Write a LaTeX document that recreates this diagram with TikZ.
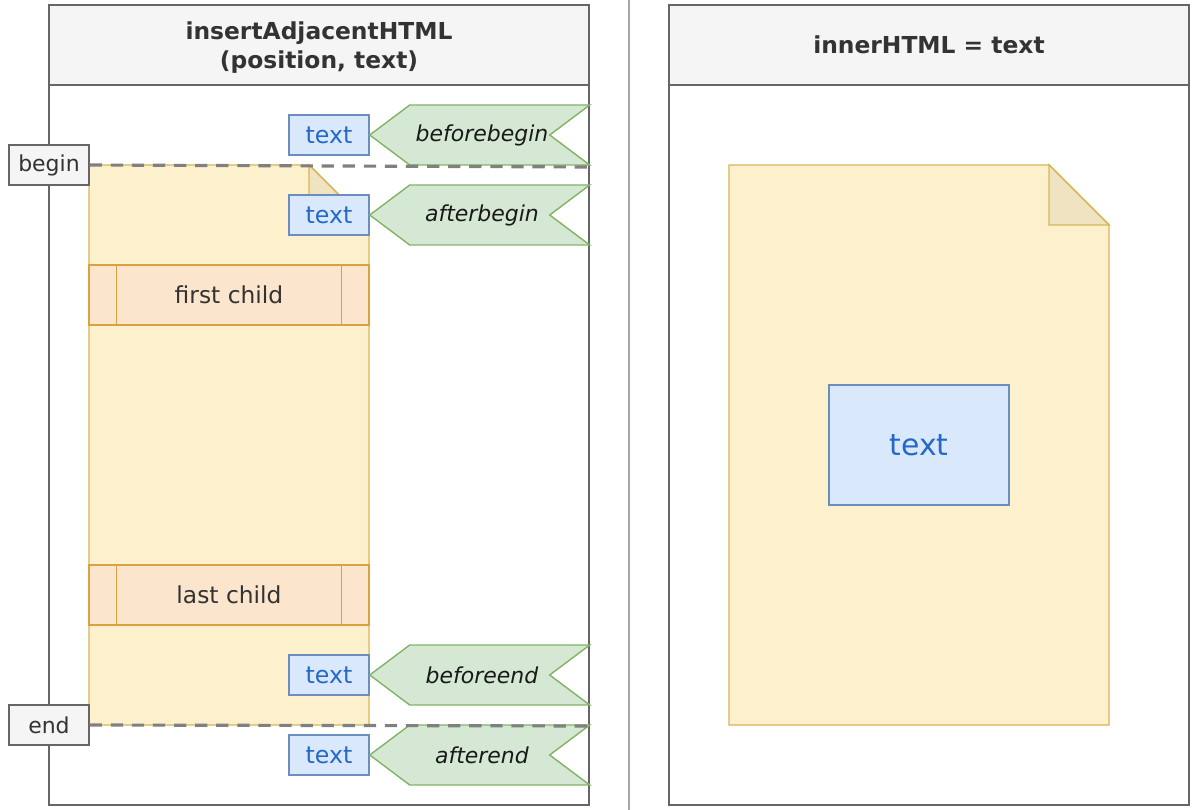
\documentclass[tikz,border=0pt]{standalone}
\usepackage{fontspec}
\setmainfont{DejaVu Sans}
\usepackage{xcolor}
\usetikzlibrary{positioning}

\definecolor{panelline}{HTML}{666666}
\definecolor{headfill}{HTML}{F5F5F5}
\definecolor{darktext}{HTML}{333333}
\definecolor{docfill}{HTML}{FDF1CD}
\definecolor{docline}{HTML}{D6B656}
\definecolor{foldfill}{HTML}{EFE3C2}
\definecolor{childfill}{HTML}{FBE5CD}
\definecolor{childline}{HTML}{D9A13F}
\definecolor{txtfill}{HTML}{DAE8FC}
\definecolor{txtline}{HTML}{6C8EBF}
\definecolor{txtblue}{HTML}{2468C8}
\definecolor{flagfill}{HTML}{D5E8D4}
\definecolor{flagline}{HTML}{82B366}
\definecolor{cutline}{HTML}{808080}

\newcommand\figfont{\fontsize{12.5}{16}\selectfont}

\tikzset{
panel/.style={draw=panelline,line width=1pt},
head/.style={draw=panelline,fill=headfill,line width=1pt},
title/.style={font=\fontsize{13.3}{16.5}\selectfont\bfseries,text=darktext,align=center},
doc/.style={draw=docline,fill=docfill,line width=0.8pt},
child/.style={draw=childline,fill=childfill,line width=0.8pt,minimum width=5.6cm,minimum height=1.2cm,text=darktext,font=\fontsize{13.3}{16}\selectfont},
txt/.style={draw=txtline,fill=txtfill,text=txtblue,line width=0.8pt,inner sep=0pt,minimum width=1.6cm,minimum height=0.8cm,font=\fontsize{13.5}{16}\selectfont},
flag/.style={draw=flagline,fill=flagfill,line width=0.8pt},
flaglabel/.style={font=\figfont\itshape,text=black!90},
bound/.style={draw=panelline,fill=headfill,text=darktext,line width=0.8pt,inner sep=0pt,minimum width=1.6cm,minimum height=0.8cm},
cut/.style={draw=cutline,line width=1.8pt,dash pattern=on 7pt off 5pt}
}

\begin{document}
\begin{tikzpicture}[x=0.02cm,y=-0.02cm,font=\figfont]
\useasboundingbox (0,0) rectangle (1192,810);
\draw[draw=cutline!70,line width=1pt](629,0)--(629,810);
% left panel
\draw[panel](49,5)rectangle(589,805);
\draw[head](49,5)rectangle(589,85);
\node[title](ttl1) at (319,48){insertAdjacentHTML\\(position, text)};
\draw[doc](89,165)--(309,165)--(369,225)--(369,725)--(89,725)--cycle;
\draw[doc,fill=foldfill](309,165)--(309,225)--(369,225)--cycle;
\node[child](first) at (229,295){first child};
\node[child](last) at (229,595){last child};
\foreach \c in {first,last}{
\draw[draw=childline,line width=0.8pt]([xshift=0.56cm]\c.north west)--([xshift=0.56cm]\c.south west)
([xshift=-0.56cm]\c.north east)--([xshift=-0.56cm]\c.south east);
}
\foreach \y/\lab in {135/beforebegin,215/afterbegin,675/beforeend,755/afterend}{
\node[txt](t-\lab) at (329,\y){text};
\draw[flag](t-\lab.east)--++(40,-30)--++(180,0)--++(-40,30)--++(40,30)--++(-180,0)--cycle;
\node[flaglabel](\lab) at (482,\y){\lab};
}
\node[bound](begin) at (49,165){begin};
\node[bound](end) at (49,725){end};
\coordinate(beginedge) at (589,167);
\coordinate(endedge) at (589,726);
\draw[cut](begin.east)--(beginedge);
\draw[cut](end.east)--(endedge);
% right panel
\draw[panel](669,5)rectangle(1189,805);
\draw[head](669,5)rectangle(1189,85);
\node[title](ttl2) at (929,45){innerHTML = text};
\draw[doc](729,165)--(1049,165)--(1109,225)--(1109,725)--(729,725)--cycle;
\draw[doc,fill=foldfill](1049,165)--(1049,225)--(1109,225)--cycle;
\node[txt,minimum width=3.6cm,minimum height=2.4cm,font=\fontsize{17}{20}\selectfont](inner) at (919,445){text};
\end{tikzpicture}
\end{document}
